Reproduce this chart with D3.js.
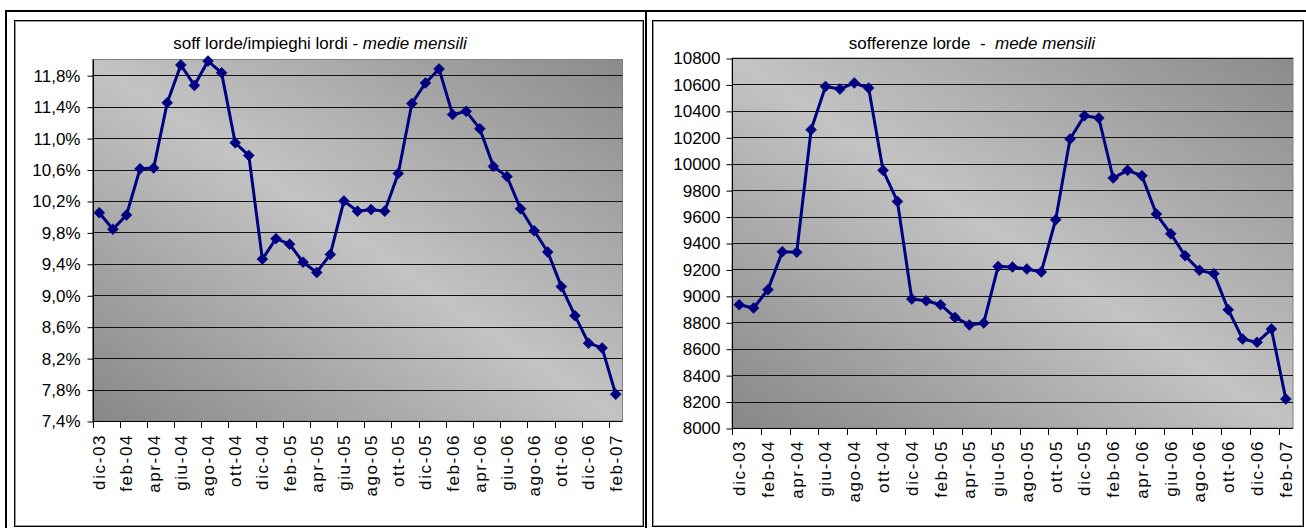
<!DOCTYPE html>
<html>
<head>
<meta charset="utf-8">
<script src="https://cdn.jsdelivr.net/npm/d3@7"></script>
<style>
  html, body { margin: 0; padding: 0; background: #fff; }
  svg { display: block; }
  text { font-family: "Liberation Sans", Arial, sans-serif; fill: #000; }
</style>
</head>
<body>
<svg id="c" width="1306" height="528"></svg>
<script>
// ---- data ----
const categories = ["dic-03","gen-04","feb-04","mar-04","apr-04","mag-04","giu-04","lug-04","ago-04","set-04","ott-04","nov-04",
  "dic-04","gen-05","feb-05","mar-05","apr-05","mag-05","giu-05","lug-05","ago-05","set-05","ott-05","nov-05",
  "dic-05","gen-06","feb-06","mar-06","apr-06","mag-06","giu-06","lug-06","ago-06","set-06","ott-06","nov-06",
  "dic-06","gen-07","feb-07"];
const ratioValues = [10.05, 9.84, 10.02, 10.61, 10.62, 11.45, 11.93, 11.67, 11.98, 11.83, 10.94, 10.78,
  9.46, 9.72, 9.65, 9.42, 9.29, 9.52, 10.20, 10.07, 10.09, 10.07, 10.55, 11.44,
  11.70, 11.88, 11.30, 11.34, 11.12, 10.64, 10.51, 10.10, 9.82, 9.55, 9.11, 8.74,
  8.39, 8.33, 7.74];
const sofferenzeValues = [8933, 8908, 9047, 9334, 9330, 10257, 10585, 10565, 10611, 10573, 9950, 9715,
  8976, 8963, 8933, 8837, 8780, 8795, 9223, 9218, 9203, 9181, 9576, 10187,
  10363, 10346, 9892, 9950, 9909, 9619, 9470, 9304, 9193, 9168, 8895, 8673,
  8648, 8749, 8219];
const leftTicks = [7.4, 7.8, 8.2, 8.6, 9.0, 9.4, 9.8, 10.2, 10.6, 11.0, 11.4, 11.8];
const rightTicks = [8000, 8200, 8400, 8600, 8800, 9000, 9200, 9400, 9600, 9800, 10000, 10200, 10400, 10600, 10800];
const leftTitle = ["soff lorde/impieghi lordi - ", "medie mensili"];
const rightTitle = ["sofferenze lorde  -  ", "mede mensili"];

const svg = d3.select("#c");
const defs = svg.append("defs");

// outer table frame
const frame = svg.append("g");
frame.append("line").attr("x1", 5).attr("x2", 1306).attr("y1", 11).attr("y2", 11).attr("stroke", "#000").attr("stroke-width", 2);
frame.append("line").attr("x1", 6).attr("x2", 6).attr("y1", 10).attr("y2", 528).attr("stroke", "#000").attr("stroke-width", 2);
frame.append("line").attr("x1", 646).attr("x2", 646).attr("y1", 10).attr("y2", 528).attr("stroke", "#000").attr("stroke-width", 2);

function chartBox(x0, x1, y0, y1) {
  svg.append("rect").attr("x", x0 + 0.5).attr("y", y0 + 0.5).attr("width", x1 - x0).attr("height", y1 - y0)
    .attr("fill", "#fff").attr("stroke", "#000").attr("stroke-width", 1);
  svg.append("rect").attr("x", x0 + 1.5).attr("y", y0 + 1.5).attr("width", x1 - x0 - 2).attr("height", y1 - y0 - 2)
    .attr("fill", "none").attr("stroke", "#9a9a9a").attr("stroke-width", 1);
}

function drawChart(cfg) {
  const id = cfg.id;
  chartBox(cfg.box[0], cfg.box[1], cfg.box[2], cfg.box[3]);

  const grad = defs.append("linearGradient").attr("id", "g" + id)
    .attr("x1", 0).attr("y1", 1).attr("x2", 1).attr("y2", 0);
  grad.append("stop").attr("offset", 0).attr("stop-color", "#878787");
  grad.append("stop").attr("offset", 0.5).attr("stop-color", "#c3c3c3");
  grad.append("stop").attr("offset", 1).attr("stop-color", "#8b8b8b");

  const [L, R, T, B] = cfg.plot;
  const x = d3.scaleBand().domain(categories).range([L, R]).padding(0);
  const y = d3.scaleLinear().domain(cfg.domain).range([B, T]);
  const g = svg.append("g");

  g.append("rect").attr("x", L).attr("y", T).attr("width", R - L).attr("height", B - T)
    .attr("fill", `url(#g${id})`).attr("stroke", "#808080").attr("stroke-width", 1);

  // gridlines
  g.selectAll(".grid").data(cfg.ticks.slice(1)).join("line")
    .attr("x1", L).attr("x2", R)
    .attr("y1", d => Math.round(y(d)) + 0.5).attr("y2", d => Math.round(y(d)) + 0.5)
    .attr("stroke", "#111").attr("stroke-width", 1);

  // y axis
  const yAxis = d3.axisLeft(y).tickValues(cfg.ticks).tickSize(6).tickPadding(cfg.ypad).tickFormat(cfg.fmt);
  const ya = g.append("g").attr("transform", `translate(${Math.round(L) + 0.5},0.5)`).call(yAxis);
  ya.select(".domain").attr("stroke", "#000").attr("d", `M0,${T - 0.5}V${B}`);
  ya.selectAll(".tick line").attr("stroke", "#000");
  ya.selectAll(".tick text").attr("font-size", 17).attr("font-family", '"Liberation Sans", Arial, sans-serif').attr("fill", "#000");

  // x axis: ticks at every second category boundary
  const even = categories.filter((c, i) => i % 2 === 0);
  g.append("line").attr("x1", L).attr("x2", R).attr("y1", Math.round(B) + 0.5).attr("y2", Math.round(B) + 0.5)
    .attr("stroke", "#000");
  g.selectAll(".xt").data(even).join("line")
    .attr("x1", d => Math.round(x(d)) + 0.5).attr("x2", d => Math.round(x(d)) + 0.5)
    .attr("y1", Math.round(B)).attr("y2", Math.round(B) + 7)
    .attr("stroke", "#000");
  g.selectAll(".xl").data(even).join("text")
    .attr("transform", d => `translate(${x(d) + x.bandwidth() / 2},${B + cfg.xpad}) rotate(-90)`)
    .attr("text-anchor", "end").attr("dy", "0.35em")
    .attr("font-size", 17).style("letter-spacing", "1.6px")
    .text(d => d);

  // line and markers
  const pts = cfg.values.map((v, i) => [x(categories[i]) + x.bandwidth() / 2, y(v)]);
  g.append("path").attr("d", d3.line()(pts)).attr("fill", "none")
    .attr("stroke", "#000080").attr("stroke-width", 3).attr("stroke-linejoin", "round");
  g.selectAll(".mk").data(pts).join("path")
    .attr("d", d => `M${d[0]},${d[1] - 5.5}L${d[0] + 5.5},${d[1]}L${d[0]},${d[1] + 5.5}L${d[0] - 5.5},${d[1]}Z`)
    .attr("fill", "#000080").attr("stroke", "#000080").attr("stroke-width", 0.5);

  // title
  const t = svg.append("text").attr("x", cfg.titleX).attr("y", 49).attr("text-anchor", "middle")
    .attr("font-size", 17).style("white-space", "pre");
  t.append("tspan").text(cfg.title[0]);
  t.append("tspan").attr("font-style", "italic").text(cfg.title[1]);
}

const commaFmt = d => d3.format(".1f")(d).replace(".", ",") + "%";

drawChart({
  id: "L", box: [14, 643, 20, 526], plot: [92.5, 622.5, 59.5, 421],
  domain: [7.4, 12.0], ticks: leftTicks, fmt: commaFmt, values: ratioValues,
  ypad: 7, xpad: 13, title: leftTitle, titleX: 320
});
drawChart({
  id: "R", box: [652, 1303, 20, 526], plot: [732, 1293, 58, 428],
  domain: [8000, 10800], ticks: rightTicks, fmt: d => String(d), values: sofferenzeValues,
  ypad: 6, xpad: 12, title: rightTitle, titleX: 972
});
</script>
</body>
</html>
